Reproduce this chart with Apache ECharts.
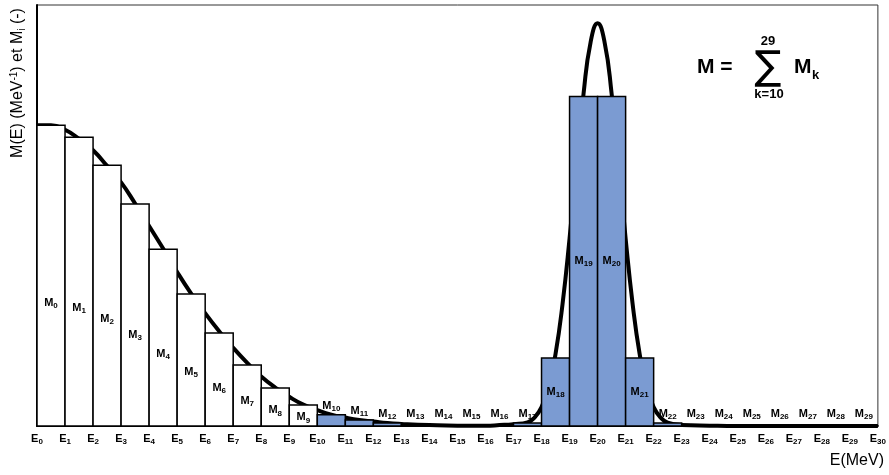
<!DOCTYPE html>
<html>
<head>
<meta charset="utf-8">
<script src="https://cdn.jsdelivr.net/npm/echarts@6/dist/echarts.min.js"></script>
<style>
  html, body { margin: 0; padding: 0; background: #fff; }
  #main { width: 889px; height: 475px; }
</style>
</head>
<body>
<div id="main"></div>
<script>
// bins E_k .. E_k+1, k = 0..29, M_k (normalised so that M_0 = 1)
var binIndex = [];
for (var i = 0; i < 30; i++) binIndex.push(i);

var binValues = [
  1.00, 0.96, 0.867, 0.738, 0.588, 0.439, 0.309, 0.203, 0.126, 0.070,
  0.037, 0.020, 0.010, 0.005, 0.002, 0.001, 0.002, 0.010, 0.226, 1.096,
  1.096, 0.226, 0.010, 0.003, 0.001, 0, 0, 0, 0, 0
];

// continuous spectrum M(E)
var curveX = [
  0, 0.5, 1, 1.5, 2, 2.5, 3, 3.5, 4, 4.5,
  5, 5.5, 6, 6.5, 7, 7.5, 8, 8.5, 9, 9.5,
  10, 10.5, 11, 11.5, 12, 12.5, 13, 14, 15, 16,
  16.5, 17, 17.5, 17.75, 18, 18.25, 18.5, 18.75, 19, 19.25,
  19.5, 19.75, 20, 20.25, 20.5, 20.75, 21, 21.25, 21.5, 21.75,
  22, 22.25, 22.5, 23, 24, 25, 30
];
var curveY = [
  1.00, 1.00, 0.985, 0.955, 0.917, 0.865, 0.81, 0.74, 0.665, 0.59,
  0.512, 0.44, 0.375, 0.315, 0.26, 0.21, 0.165, 0.128, 0.097, 0.071,
  0.053, 0.038, 0.028, 0.02, 0.015, 0.01, 0.007, 0.003, 0.001, 0.001,
  0.003, 0.006, 0.012, 0.028, 0.063, 0.129, 0.240, 0.406, 0.624, 0.872,
  1.106, 1.276, 1.339, 1.276, 1.106, 0.872, 0.624, 0.406, 0.240, 0.129,
  0.063, 0.028, 0.011, 0.003, 0.001, 0, 0
];

var barData = binIndex.map(function (k, n) { return [k, binValues[n]]; });
var curveData = curveX.map(function (x, n) { return [x, curveY[n]]; });

var FONT = '"Liberation Sans", Arial, sans-serif';
var BLUE = '#7b9bd2';

var chart = echarts.init(document.getElementById('main'));

chart.setOption({
  animation: false,
  backgroundColor: '#fff',
  grid: {
    left: 37, right: 8, top: 5, bottom: 49,
    show: true, borderColor: '#333', borderWidth: 1, backgroundColor: 'transparent'
  },
  xAxis: {
    type: 'value',
    min: 0, max: 30, interval: 1,
    axisLine: { show: true, lineStyle: { color: '#000', width: 2 } },
    axisTick: { show: false },
    splitLine: { show: false },
    axisLabel: {
      margin: 6,
      showMaxLabel: true,
      formatter: function (v) { return '{e|E}{s|' + v + '}'; },
      rich: {
        e: { fontFamily: FONT, fontWeight: 'bold', fontSize: 11, color: '#000' },
        s: { fontFamily: FONT, fontWeight: 'bold', fontSize: 8, color: '#000', padding: [6, 0, 0, 0] }
      }
    }
  },
  yAxis: {
    type: 'value',
    min: 0, max: 1.4,
    axisLine: { show: true, lineStyle: { color: '#000', width: 2 } },
    axisTick: { show: false },
    axisLabel: { show: false },
    splitLine: { show: false }
  },
  series: [
    {
      type: 'line',
      data: curveData,
      smooth: 0.5,
      showSymbol: false,
      lineStyle: { color: '#000', width: 4 },
      z: 1
    },
    {
      type: 'custom',
      data: barData,
      z: 3,
      renderItem: function (params, api) {
        var k = api.value(0), v = api.value(1);
        var p0 = api.coord([k, 0]);
        var p1 = api.coord([k + 1, v]);
        var top = p1[1], bottom = p0[1];
        var cx = (p0[0] + p1[0]) / 2;
        var ly;
        if (k < 10) ly = top + 0.59 * (bottom - top);
        else if (bottom - top > 40) ly = (top + bottom) / 2;
        else ly = Math.min(bottom - 12, top - 9);
        return {
          type: 'group',
          children: [
            {
              type: 'rect',
              shape: { x: p0[0], y: top, width: p1[0] - p0[0], height: bottom - top },
              style: { fill: k < 10 ? '#fff' : BLUE, stroke: '#000', lineWidth: 1.5 }
            },
            {
              type: 'text',
              x: cx, y: ly,
              style: {
                text: '{m|M}{s|' + k + '}',
                align: 'center', verticalAlign: 'middle',
                rich: {
                  m: { fontFamily: FONT, fontWeight: 'bold', fontSize: 11, fill: '#000' },
                  s: { fontFamily: FONT, fontWeight: 'bold', fontSize: 8, fill: '#000', padding: [6, 0, 0, 0] }
                }
              }
            }
          ]
        };
      }
    }
  ],
  graphic: [
    {
      type: 'text', x: 18, y: 83, rotation: Math.PI / 2,
      style: {
        text: '{t|M(E) (MeV}{p|-1}{t|) et M}{b|i}{t| (-)}',
        align: 'center', verticalAlign: 'middle',
        rich: {
          t: { fontFamily: FONT, fontSize: 16, fill: '#000' },
          p: { fontFamily: FONT, fontSize: 10, fill: '#000', padding: [0, 0, 8, 0] },
          b: { fontFamily: FONT, fontSize: 10, fill: '#000', padding: [8, 0, 0, 0] }
        }
      }
    },
    {
      type: 'text', right: 5, top: 453,
      style: { text: 'E(MeV)', font: '16px ' + FONT, fill: '#000' }
    },
    {
      type: 'text', x: 697, y: 67,
      style: { text: 'M =', font: 'bold 21px ' + FONT, fill: '#000', verticalAlign: 'middle' }
    },
    {
      type: 'text', x: 768, y: 69,
      style: { text: '\u2211', font: '40px "DejaVu Sans", ' + FONT, fill: '#000', align: 'center', verticalAlign: 'middle' }
    },
    {
      type: 'text', x: 768, y: 41,
      style: { text: '29', font: 'bold 13px ' + FONT, fill: '#000', align: 'center', verticalAlign: 'middle' }
    },
    {
      type: 'text', x: 769, y: 94,
      style: { text: 'k=10', font: 'bold 13px ' + FONT, fill: '#000', align: 'center', verticalAlign: 'middle' }
    },
    {
      type: 'text', x: 794, y: 67,
      style: { text: 'M', font: 'bold 21px ' + FONT, fill: '#000', verticalAlign: 'middle' }
    },
    {
      type: 'text', x: 812, y: 75,
      style: { text: 'k', font: 'bold 13px ' + FONT, fill: '#000', verticalAlign: 'middle' }
    }
  ]
});
</script>
</body>
</html>
